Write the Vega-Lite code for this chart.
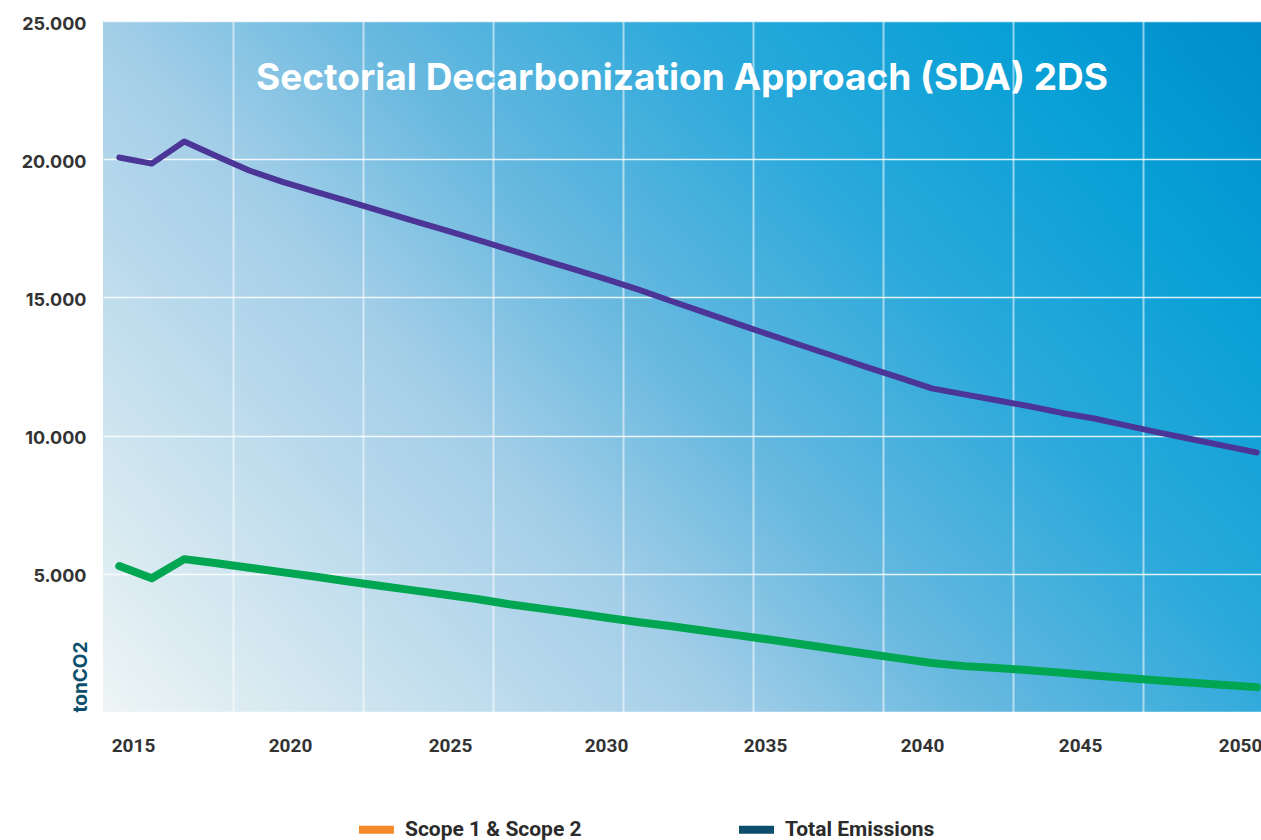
{
  "$schema": "https://vega.github.io/schema/vega-lite/v6.json",
  "width": 1158,
  "height": 691,
  "autosize": {"type": "none"},
  "padding": {"left": 103, "top": 21, "right": 0, "bottom": 128},
  "background": "white",
  "config": {
    "view": {
      "stroke": null,
      "fill": {
        "gradient": "linear",
        "x1": 0, "y1": 1, "x2": 1.19, "y2": 0.36,
        "stops": [
          {"offset": 0, "color": "#eef5f5"},
          {"offset": 0.35, "color": "#a3cee8"},
          {"offset": 0.5, "color": "#66b8df"},
          {"offset": 0.68, "color": "#2aa9db"},
          {"offset": 0.85, "color": "#08a0d6"},
          {"offset": 1, "color": "#008dcc"}
        ]
      }
    }
  },
  "title": {
    "text": "Sectorial Decarbonization Approach (SDA) 2DS",
    "anchor": "middle",
    "frame": "group",
    "orient": "top",
    "offset": -112,
    "baseline": "alphabetic",
    "color": "#ffffff",
    "font": "Inter",
    "fontSize": 37,
    "fontWeight": 700
  },
  "data": {
    "values": [
      {"year": 2015, "series": "Total Emissions", "value": 20060},
      {"year": 2016, "series": "Total Emissions", "value": 19840},
      {"year": 2017, "series": "Total Emissions", "value": 20640},
      {"year": 2018, "series": "Total Emissions", "value": 20110},
      {"year": 2019, "series": "Total Emissions", "value": 19590},
      {"year": 2020, "series": "Total Emissions", "value": 19190},
      {"year": 2021, "series": "Total Emissions", "value": 18840},
      {"year": 2022, "series": "Total Emissions", "value": 18490},
      {"year": 2023, "series": "Total Emissions", "value": 18140},
      {"year": 2024, "series": "Total Emissions", "value": 17790},
      {"year": 2025, "series": "Total Emissions", "value": 17440},
      {"year": 2026, "series": "Total Emissions", "value": 17090},
      {"year": 2027, "series": "Total Emissions", "value": 16730},
      {"year": 2028, "series": "Total Emissions", "value": 16370},
      {"year": 2029, "series": "Total Emissions", "value": 16010},
      {"year": 2030, "series": "Total Emissions", "value": 15650},
      {"year": 2031, "series": "Total Emissions", "value": 15270},
      {"year": 2032, "series": "Total Emissions", "value": 14860},
      {"year": 2033, "series": "Total Emissions", "value": 14460},
      {"year": 2034, "series": "Total Emissions", "value": 14050},
      {"year": 2035, "series": "Total Emissions", "value": 13650},
      {"year": 2036, "series": "Total Emissions", "value": 13260},
      {"year": 2037, "series": "Total Emissions", "value": 12870},
      {"year": 2038, "series": "Total Emissions", "value": 12480},
      {"year": 2039, "series": "Total Emissions", "value": 12100},
      {"year": 2040, "series": "Total Emissions", "value": 11710},
      {"year": 2041, "series": "Total Emissions", "value": 11490},
      {"year": 2042, "series": "Total Emissions", "value": 11280},
      {"year": 2043, "series": "Total Emissions", "value": 11060},
      {"year": 2044, "series": "Total Emissions", "value": 10820},
      {"year": 2045, "series": "Total Emissions", "value": 10620},
      {"year": 2046, "series": "Total Emissions", "value": 10360},
      {"year": 2047, "series": "Total Emissions", "value": 10110},
      {"year": 2048, "series": "Total Emissions", "value": 9870},
      {"year": 2049, "series": "Total Emissions", "value": 9630},
      {"year": 2050, "series": "Total Emissions", "value": 9390},
      {"year": 2015, "series": "Scope 1 & Scope 2", "value": 5280},
      {"year": 2016, "series": "Scope 1 & Scope 2", "value": 4840},
      {"year": 2017, "series": "Scope 1 & Scope 2", "value": 5530},
      {"year": 2018, "series": "Scope 1 & Scope 2", "value": 5380},
      {"year": 2019, "series": "Scope 1 & Scope 2", "value": 5220},
      {"year": 2020, "series": "Scope 1 & Scope 2", "value": 5060},
      {"year": 2021, "series": "Scope 1 & Scope 2", "value": 4900},
      {"year": 2022, "series": "Scope 1 & Scope 2", "value": 4730},
      {"year": 2023, "series": "Scope 1 & Scope 2", "value": 4570},
      {"year": 2024, "series": "Scope 1 & Scope 2", "value": 4410},
      {"year": 2025, "series": "Scope 1 & Scope 2", "value": 4250},
      {"year": 2026, "series": "Scope 1 & Scope 2", "value": 4090},
      {"year": 2027, "series": "Scope 1 & Scope 2", "value": 3900},
      {"year": 2028, "series": "Scope 1 & Scope 2", "value": 3740},
      {"year": 2029, "series": "Scope 1 & Scope 2", "value": 3580},
      {"year": 2030, "series": "Scope 1 & Scope 2", "value": 3410},
      {"year": 2031, "series": "Scope 1 & Scope 2", "value": 3250},
      {"year": 2032, "series": "Scope 1 & Scope 2", "value": 3100},
      {"year": 2033, "series": "Scope 1 & Scope 2", "value": 2940},
      {"year": 2034, "series": "Scope 1 & Scope 2", "value": 2780},
      {"year": 2035, "series": "Scope 1 & Scope 2", "value": 2620},
      {"year": 2036, "series": "Scope 1 & Scope 2", "value": 2450},
      {"year": 2037, "series": "Scope 1 & Scope 2", "value": 2280},
      {"year": 2038, "series": "Scope 1 & Scope 2", "value": 2110},
      {"year": 2039, "series": "Scope 1 & Scope 2", "value": 1940},
      {"year": 2040, "series": "Scope 1 & Scope 2", "value": 1770},
      {"year": 2041, "series": "Scope 1 & Scope 2", "value": 1660},
      {"year": 2042, "series": "Scope 1 & Scope 2", "value": 1590},
      {"year": 2043, "series": "Scope 1 & Scope 2", "value": 1510},
      {"year": 2044, "series": "Scope 1 & Scope 2", "value": 1420},
      {"year": 2045, "series": "Scope 1 & Scope 2", "value": 1320},
      {"year": 2046, "series": "Scope 1 & Scope 2", "value": 1230},
      {"year": 2047, "series": "Scope 1 & Scope 2", "value": 1140},
      {"year": 2048, "series": "Scope 1 & Scope 2", "value": 1060},
      {"year": 2049, "series": "Scope 1 & Scope 2", "value": 980},
      {"year": 2050, "series": "Scope 1 & Scope 2", "value": 900}
    ]
  },
  "encoding": {
    "x": {
      "field": "year",
      "type": "quantitative",
      "scale": {"domain": [2014.5, 2050.13], "nice": false, "zero": false},
      "axis": {
        "title": null,
        "values": [2015.423, 2018.5, 2020.254, 2022.5, 2025.177, 2026.5, 2029.977, 2030.5, 2034.5, 2034.869, 2038.5, 2039.7, 2042.5, 2044.562, 2046.5, 2049.485],
        "labelExpr": "datum.value % 1 == 0.5 ? '' : format(round(datum.value / 5) * 5, 'd')",
        "ticks": false,
        "domain": false,
        "labelPadding": 24,
        "labelFont": "Roboto",
        "labelFontSize": 19,
        "labelFontWeight": 700,
        "labelColor": "#333333",
        "labelOverlap": false,
        "labelFlush": false,
        "grid": true,
        "gridColor": "#ffffff",
        "gridWidth": 2,
        "gridOpacity": {"condition": {"test": "datum.value % 1 == 0.5", "value": 0.55}, "value": 0}
      }
    },
    "y": {
      "field": "value",
      "type": "quantitative",
      "scale": {"domain": [0, 25000], "nice": false},
      "axis": {
        "values": [0, 5000, 10000, 15000, 20000, 25000],
        "labelExpr": "datum.value == 0 ? '' : replace(format(datum.value, ','), ',', '.')",
        "ticks": false,
        "domain": false,
        "labelPadding": 17,
        "labelOffset": 3,
        "labelFont": "Inter",
        "labelFontSize": 18,
        "labelFontWeight": 700,
        "labelColor": "#333333",
        "grid": true,
        "gridColor": "#ffffff",
        "gridWidth": 1.5,
        "gridOpacity": 0.85,
        "title": "tonCO2",
        "titleColor": "#0b4f6c",
        "titleFont": "Inter",
        "titleFontSize": 19,
        "titleFontWeight": 700,
        "titleAngle": -90,
        "titleX": -17,
        "titleY": 691,
        "titleAlign": "left",
        "titleBaseline": "alphabetic"
      }
    }
  },
  "layer": [
    {
      "mark": {"type": "line", "strokeCap": "round", "strokeJoin": "round"},
      "encoding": {
        "stroke": {
          "field": "series",
          "type": "nominal",
          "scale": {"domain": ["Total Emissions", "Scope 1 & Scope 2"], "range": ["#4b3597", "#00a651"]},
          "legend": null
        },
        "strokeWidth": {
          "field": "series",
          "type": "nominal",
          "scale": {"domain": ["Total Emissions", "Scope 1 & Scope 2"], "range": [6, 8]},
          "legend": null
        }
      }
    },
    {
      "transform": [{"filter": "datum.year < 0"}],
      "mark": {"type": "square", "filled": true},
      "encoding": {
        "fill": {
          "field": "series",
          "type": "nominal",
          "scale": {"domain": ["Scope 1 & Scope 2", "Total Emissions"], "range": ["#f6892b", "#0b4f6c"]},
          "legend": {
            "title": null,
            "orient": "none",
            "legendX": 256,
            "legendY": 791,
            "direction": "horizontal",
            "symbolType": "M-1,-0.23H1V0.23H-1Z",
            "symbolSize": 1225,
            "symbolStrokeWidth": 0,
            "symbolOpacity": 1,
            "labelOffset": 11,
            "columnPadding": 157,
            "labelFont": "Roboto",
            "labelFontSize": 21,
            "labelFontWeight": 700,
            "labelColor": "#2b2b2b",
            "labelLimit": 400
          }
        }
      }
    }
  ]
}
